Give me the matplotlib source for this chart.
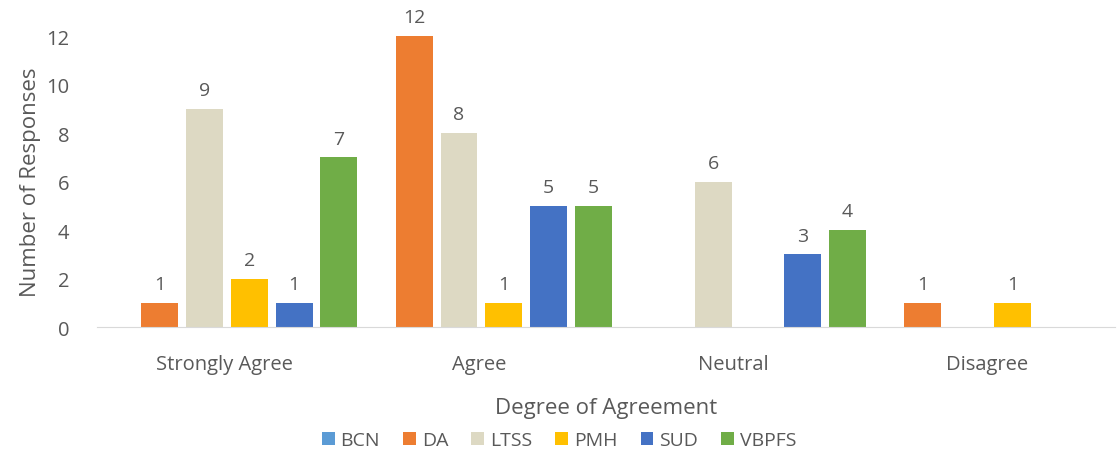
import matplotlib.pyplot as plt
import numpy as np

plt.rcParams['font.family'] = ['Open Sans', 'DejaVu Sans']

categories = ['Strongly Agree', 'Agree', 'Neutral', 'Disagree']
series = ['BCN', 'DA', 'LTSS', 'PMH', 'SUD', 'VBPFS']
bcn = [0, 0, 0, 0]
da = [1, 12, 0, 1]
ltss = [9, 8, 6, 0]
pmh = [2, 1, 0, 1]
sud = [1, 5, 3, 0]
vbpfs = [7, 5, 4, 0]
values = [bcn, da, ltss, pmh, sud, vbpfs]
colors = ['#5B9BD5', '#ED7D31', '#DDD9C3', '#FFC000', '#4472C4', '#70AD47']

txt = '#595959'
fig = plt.figure(figsize=(11.18, 4.52), dpi=100)
ax = fig.add_axes([0.087, 0.274, 0.91, 0.644])

x = np.arange(len(categories))
pitch = 0.176
width = 0.145
for i, (name, vals) in enumerate(zip(series, values)):
    pos = x + (i - 2.5) * pitch + 0.01
    ax.bar(pos, vals, width, color=colors[i], label=name)
    for xp, v in zip(pos, vals):
        if v > 0:
            ax.text(xp, v + 0.4, str(v), ha='center', va='bottom',
                    fontsize=14, color=txt, clip_on=False)

ax.set_xlim(-0.5, 3.5)
ax.set_ylim(0, 12)
ax.set_yticks(range(0, 13, 2))
ax.set_xticks(x)
ax.set_xticklabels(categories)
ax.tick_params(axis='both', length=0, labelsize=14.5, colors=txt)
ax.tick_params(axis='x', pad=19)
ax.tick_params(axis='y', pad=20)
for s in ['top', 'right', 'left']:
    ax.spines[s].set_visible(False)
ax.spines['bottom'].set_color('#D9D9D9')

ax.set_xlabel('Degree of Agreement', fontsize=16, color=txt, labelpad=17)
ax.set_ylabel('Number of Responses', fontsize=16, color=txt, labelpad=4)

fig.legend(loc='center', bbox_to_anchor=(0.5, 0.024), ncol=6, frameon=False,
           fontsize=14, labelcolor=txt, handlelength=0.65, handleheight=0.65,
           handletextpad=0.3, columnspacing=1.2)

fig.savefig('out.png', dpi=100)
